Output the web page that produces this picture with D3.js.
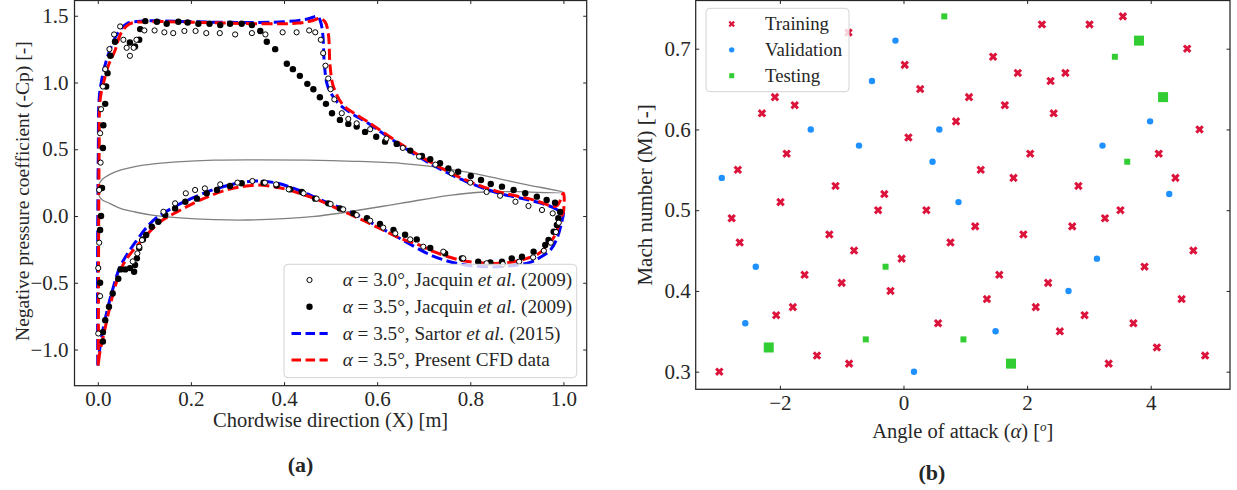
<!DOCTYPE html>
<html>
<head>
<meta charset="utf-8">
<script src="https://cdn.jsdelivr.net/npm/d3@7"></script>
<style>
  body { margin: 0; background: #fff; }
  svg { display: block; }
  text { font-family: "Liberation Serif", "DejaVu Serif", serif; fill: #262626; }
</style>
</head>
<body>
<div id="chart"></div>
<script>
// ---------- data: panel (a), chordwise x vs -Cp ----------
const airfoilUpper = [[0,0.195],[0.003,0.24],[0.01,0.275],[0.025,0.31],[0.05,0.345],[0.08,0.37],[0.12,0.39],
  [0.17,0.405],[0.25,0.418],[0.35,0.42],[0.45,0.418],[0.55,0.41],[0.65,0.395],[0.72,0.37],[0.79,0.33],
  [0.86,0.28],[0.92,0.235],[1.0,0.177]];
const airfoilLower = [[0,0.195],[0.003,0.15],[0.01,0.12],[0.025,0.095],[0.05,0.055],[0.08,0.03],[0.12,0.005],
  [0.17,-0.012],[0.25,-0.027],[0.32,-0.03],[0.4,-0.02],[0.46,-0.005],[0.54,0.032],[0.65,0.095],
  [0.755,0.155],[0.83,0.18],[0.9,0.182],[1.0,0.177]];

const cfdUpper = [[0.001,-1.12],[0.0015,-0.6],[0.002,0.0],[0.003,0.5],[0.005,0.87],[0.012,0.99],[0.022,1.12],
  [0.037,1.24],[0.05,1.37],[0.069,1.44],[0.11,1.455],[0.22,1.45],[0.36,1.44],[0.43,1.445],[0.462,1.465],
  [0.477,1.48],[0.488,1.455],[0.495,1.37],[0.499,1.12],[0.506,0.97],[0.527,0.83],[0.55,0.77],[0.578,0.71],
  [0.648,0.545],[0.719,0.395],[0.79,0.27],[0.862,0.18],[0.926,0.13],[0.948,0.107],[0.985,0.075],[1.0,0.17]];
const cfdLower = [[0.001,-1.12],[0.004,-1.03],[0.012,-0.9],[0.026,-0.68],[0.037,-0.53],[0.055,-0.36],[0.09,-0.2],
  [0.134,-0.043],[0.17,0.03],[0.205,0.095],[0.24,0.15],[0.276,0.195],[0.31,0.22],[0.345,0.232],[0.39,0.212],
  [0.433,0.17],[0.47,0.125],[0.505,0.07],[0.54,0.015],[0.576,-0.043],[0.61,-0.1],[0.65,-0.167],[0.69,-0.217],
  [0.72,-0.265],[0.778,-0.33],[0.82,-0.35],[0.864,-0.354],[0.893,-0.342],[0.922,-0.317],[0.943,-0.29],
  [0.964,-0.23],[0.978,-0.167],[0.989,-0.08],[0.9965,0.0],[1.0,0.03]];

const sartorUpper = [[0.0,-1.12],[-0.0005,-0.6],[0.0,0.0],[0.0012,0.5],[0.003,0.88],[0.009,1.03],[0.018,1.16],
  [0.03,1.28],[0.043,1.37],[0.062,1.44],[0.1,1.46],[0.2,1.455],[0.3,1.45],[0.4,1.455],[0.45,1.475],
  [0.472,1.495],[0.478,1.46],[0.483,1.37],[0.487,1.12],[0.494,0.97],[0.515,0.85],[0.54,0.78],[0.578,0.7],
  [0.648,0.535],[0.72,0.38],[0.79,0.26],[0.862,0.17],[0.926,0.12],[0.97,0.075],[0.995,0.035]];
const sartorLower = [[0.0,-1.12],[0.004,-1.0],[0.01,-0.87],[0.02,-0.71],[0.032,-0.55],[0.048,-0.38],[0.08,-0.2],
  [0.12,-0.03],[0.16,0.06],[0.2,0.13],[0.25,0.2],[0.3,0.245],[0.34,0.262],[0.38,0.25],[0.43,0.195],[0.5,0.09],
  [0.55,0.02],[0.6,-0.075],[0.65,-0.17],[0.72,-0.3],[0.778,-0.36],[0.83,-0.38],[0.88,-0.375],[0.93,-0.345],
  [0.95,-0.31],[0.972,-0.255],[0.987,-0.16],[0.996,-0.05],[1.0,0.035]];

// Jacquin et al. (2009), alpha = 3.0 (open) and 3.5 (filled)
const jacquin30 = [[0.001,-0.88],[0.005,-0.6],[0.001,-0.39],[0.003,-0.2],[0.003,0.195],[0.006,0.40],[0.005,0.62],
  [0.007,0.8],[0.011,0.97],[0.016,1.1],[0.025,1.25],[0.035,1.36],[0.048,1.42],[0.055,1.32],[0.062,1.26],
  [0.069,1.20],[0.077,1.26],[0.083,1.32],[0.1,1.39],[0.122,1.39],[0.143,1.376],[0.162,1.37],[0.186,1.386],
  [0.21,1.386],[0.233,1.37],[0.262,1.37],[0.295,1.36],[0.331,1.37],[0.36,1.36],[0.397,1.376],[0.427,1.376],
  [0.454,1.39],[0.467,1.376],[0.479,1.32],[0.484,1.22],[0.489,1.126],[0.495,1.03],[0.5,0.95],[0.508,0.874],
  [0.524,0.77],[0.538,0.727],[0.556,0.694],[0.585,0.65],[0.62,0.58],[0.655,0.51],[0.69,0.445],[0.725,0.385],
  [0.76,0.32],[0.8,0.25],[0.835,0.18],[0.864,0.152],[0.897,0.107],[0.925,0.075],[0.954,0.045],[0.977,0.02],
  [0.075,-0.34],[0.085,-0.28],[0.089,-0.23],[0.095,-0.18],[0.141,0.032],[0.166,0.095],[0.189,0.17],
  [0.209,0.195],[0.23,0.207],[0.263,0.237],[0.3,0.25],[0.332,0.262],[0.359,0.25],[0.383,0.237],[0.41,0.2],
  [0.442,0.17],[0.47,0.13],[0.5,0.09],[0.527,0.05],[0.556,0.007],[0.585,-0.035],[0.613,-0.087],[0.639,-0.13],
  [0.671,-0.175],[0.699,-0.23],[0.742,-0.267],[0.785,-0.317],[0.835,-0.354],[0.87,-0.36],[0.905,-0.342],
  [0.935,-0.31],[0.958,-0.26],[0.973,-0.2],[0.984,-0.12],[0.99,-0.05]];
const jacquin35 = [[0.007,0.0],[0.005,-0.105],[0.005,-0.5],[0.011,-0.87],[0.011,-0.94],[0.009,0.21],[0.011,0.51],
  [0.012,0.68],[0.016,0.84],[0.018,0.97],[0.021,1.07],[0.027,1.2],[0.037,1.305],[0.069,1.30],[0.08,1.27],
  [0.089,1.32],[0.091,1.40],[0.102,1.46],[0.127,1.455],[0.148,1.44],[0.173,1.455],[0.193,1.45],[0.216,1.44],
  [0.24,1.44],[0.263,1.43],[0.284,1.44],[0.309,1.44],[0.331,1.43],[0.349,1.386],[0.363,1.305],[0.381,1.25],
  [0.406,1.14],[0.419,1.10],[0.434,1.05],[0.45,0.99],[0.463,0.95],[0.477,0.89],[0.49,0.84],[0.503,0.77],
  [0.52,0.72],[0.538,0.69],[0.556,0.67],[0.574,0.63],[0.598,0.594],[0.617,0.557],[0.642,0.54],[0.671,0.49],
  [0.696,0.45],[0.714,0.425],[0.735,0.395],[0.753,0.357],[0.774,0.332],[0.801,0.30],[0.823,0.27],[0.844,0.24],
  [0.868,0.22],[0.893,0.195],[0.918,0.17],[0.943,0.145],[0.964,0.12],[0.982,0.10],
  [0.016,-0.78],[0.024,-0.68],[0.032,-0.58],[0.044,-0.47],[0.049,-0.40],[0.059,-0.40],[0.069,-0.39],
  [0.078,-0.417],[0.08,-0.367],[0.084,-0.317],[0.089,-0.24],[0.097,-0.175],[0.104,-0.142],[0.116,-0.08],
  [0.13,-0.043],[0.145,0.007],[0.166,0.057],[0.188,0.107],[0.213,0.13],[0.234,0.17],[0.256,0.195],
  [0.284,0.225],[0.309,0.245],[0.356,0.25],[0.384,0.23],[0.413,0.2],[0.438,0.18],[0.467,0.13],[0.495,0.095],
  [0.52,0.057],[0.549,0.02],[0.578,-0.017],[0.606,-0.06],[0.635,-0.105],[0.66,-0.14],[0.685,-0.175],
  [0.714,-0.24],[0.746,-0.28],[0.782,-0.317],[0.817,-0.342],[0.843,-0.347],[0.868,-0.342],[0.889,-0.317],
  [0.911,-0.305],[0.936,-0.267],[0.961,-0.217],[0.968,-0.18],[0.979,-0.118],[0.986,-0.067],[0.989,-0.017],
  [0.993,0.03]];

// ---------- data: panel (b), angle of attack vs Mach ----------
const training = [[-0.89,0.72],[0.02,0.68],[0.27,0.65],[0.08,0.59],[0.37,0.50],[-2.08,0.64],[-2.29,0.62],
  [-1.76,0.63],[-1.89,0.57],[-2.68,0.55],[-1.10,0.53],[-0.31,0.52],[-1.99,0.51],[-0.41,0.50],[-2.78,0.49],
  [-1.20,0.47],[-2.65,0.46],[-0.80,0.45],[-1.60,0.42],[-1.00,0.41],[-0.03,0.44],[-0.21,0.40],[-1.79,0.38],
  [-2.06,0.37],[-1.40,0.32],[-0.88,0.31],[-2.98,0.30],[0.56,0.36],[2.24,0.73],[3.01,0.73],[3.55,0.74],
  [4.59,0.70],[1.45,0.69],[1.85,0.67],[2.38,0.66],[2.62,0.67],[1.06,0.64],[1.64,0.63],[2.43,0.62],[0.85,0.61],
  [4.79,0.60],[2.05,0.57],[4.13,0.57],[1.25,0.55],[1.78,0.54],[4.40,0.54],[2.83,0.53],[3.51,0.50],[3.26,0.49],
  [1.16,0.48],[2.73,0.48],[1.94,0.47],[0.76,0.46],[4.69,0.45],[3.90,0.43],[1.55,0.42],[2.34,0.41],[1.35,0.39],
  [4.50,0.39],[2.14,0.38],[2.93,0.37],[3.72,0.36],[2.53,0.35],[4.10,0.33],[3.32,0.31],[4.88,0.32]];
const validation = [[-0.13,0.71],[0.58,0.60],[0.47,0.56],[-0.51,0.66],[-1.50,0.60],[-0.72,0.58],[-2.94,0.54],
  [-2.39,0.43],[-2.56,0.36],[0.17,0.30],[3.99,0.61],[3.22,0.58],[4.30,0.52],[0.89,0.51],[3.13,0.44],
  [2.67,0.40],[1.49,0.35]];
const testing = [[-0.29,0.43],[-0.61,0.34],[0.66,0.74],[3.42,0.69],[3.62,0.56],[0.97,0.34]];
const testingLarge = [[-2.18,0.33],[3.81,0.71],[4.20,0.64],[1.74,0.31]];

// ticks
const xTicksA = [0, 0.2, 0.4, 0.6, 0.8, 1.0];
const yTicksA = [-1.0, -0.5, 0.0, 0.5, 1.0, 1.5];
const xTicksB = [-2, 0, 2, 4];
const yTicksB = [0.3, 0.4, 0.5, 0.6, 0.7];

const legendA = [
  [["α", true], [" = 3.0°, Jacquin "], ["et al.", true], [" (2009)"]],
  [["α", true], [" = 3.5°, Jacquin "], ["et al.", true], [" (2009)"]],
  [["α", true], [" = 3.5°, Sartor "], ["et al.", true], [" (2015)"]],
  [["α", true], [" = 3.5°, Present CFD data"]]
];
const legendB = ["Training", "Validation", "Testing"];

// ---------- drawing ----------
const W = 1237, H = 490;
const ink = "#262626";
const RED = "#ff0000", BLUE = "#0000ff";
const CRIMSON = "#dc143c", DODGER = "#1e90ff", LIME = "#32cd32";
const tickFont = 21, labelFont = 20.5;

const svg = d3.select("#chart").append("svg").attr("width", W).attr("height", H);

const boxA = { left: 74.5, right: 586.7, top: 0.5, bottom: 385.7 };
const boxB = { left: 695.7, right: 1230, top: 0.5, bottom: 389.3 };

const xA = d3.scaleLinear().domain([-0.05, 1.05]).range([boxA.left, boxA.right]);
const yA = d3.scaleLinear().domain([-1.271, 1.618]).range([boxA.bottom, 0]);
const xB = d3.scaleLinear().domain([-3.362, 5.283]).range([boxB.left, boxB.right]);
const yB = d3.scaleLinear().domain([0.2782, 0.7603]).range([boxB.bottom, 0]);

function drawAxes(x, y, box, xt, yt, xf, yf, padLeft, padBottom) {
  const g = svg.append("g");
  const style = sel => {
    sel.attr("font-family", null).attr("font-size", null);
    sel.select(".domain").remove();
    sel.selectAll("line").attr("stroke", ink).attr("stroke-width", 1);
    sel.selectAll("text").attr("font-size", tickFont).attr("fill", ink);
  };
  g.append("g").attr("transform", `translate(0,${box.bottom})`)
    .call(d3.axisBottom(x).tickValues(xt).tickFormat(xf).tickSize(-3.5).tickSizeOuter(0).tickPadding(padBottom))
    .call(style);
  g.append("g").attr("transform", `translate(0,${box.top})`)
    .call(d3.axisTop(x).tickValues(xt).tickFormat("").tickSize(-3.5).tickSizeOuter(0))
    .call(style);
  g.append("g").attr("transform", `translate(${box.left},0)`)
    .call(d3.axisLeft(y).tickValues(yt).tickFormat(yf).tickSize(-3.5).tickSizeOuter(0).tickPadding(padLeft))
    .call(style);
  g.append("g").attr("transform", `translate(${box.right},0)`)
    .call(d3.axisRight(y).tickValues(yt).tickFormat("").tickSize(-3.5).tickSizeOuter(0))
    .call(style);
  svg.append("rect")
    .attr("x", box.left).attr("y", box.top)
    .attr("width", box.right - box.left).attr("height", box.bottom - box.top)
    .attr("fill", "none").attr("stroke", ink).attr("stroke-width", 1.25);
}

function richText(g, x, y, parts, size) {
  const t = g.append("text").attr("x", x).attr("y", y).attr("font-size", size);
  parts.forEach(p => t.append("tspan").attr("font-style", p[1] ? "italic" : null).text(p[0]));
  return t;
}

// ----- panel (a) -----
const gA = svg.append("g");
const curve = d3.curveCatmullRom.alpha(0.5);

const foilLine = d3.line().x(d => xA(d[0])).y(d => yA(d[1])).curve(curve);
gA.append("path")
  .attr("d", foilLine(airfoilUpper.concat(airfoilLower.slice(0, -1).reverse())))
  .attr("fill", "none").attr("stroke", "#808080").attr("stroke-width", 1.3);

const cpLine = d3.line().x(d => xA(d[0])).y(d => yA(d[1])).curve(curve);
gA.append("path")
  .attr("d", cpLine(sartorUpper.concat(sartorLower.slice().reverse())))
  .attr("fill", "none").attr("stroke", BLUE).attr("stroke-width", 3)
  .attr("stroke-dasharray", "11,4.5");
gA.append("path")
  .attr("d", cpLine(cfdUpper.concat(cfdLower.slice().reverse())))
  .attr("fill", "none").attr("stroke", RED).attr("stroke-width", 3)
  .attr("stroke-dasharray", "11,4.5");

gA.selectAll(".j35").data(jacquin35).enter().append("circle")
  .attr("class", "j35")
  .attr("cx", d => xA(d[0])).attr("cy", d => yA(d[1])).attr("r", 3.2)
  .attr("fill", "#000");
gA.selectAll(".j30").data(jacquin30).enter().append("circle")
  .attr("class", "j30")
  .attr("cx", d => xA(d[0])).attr("cy", d => yA(d[1])).attr("r", 2.6)
  .attr("fill", "#fff").attr("stroke", "#000").attr("stroke-width", 1);

drawAxes(xA, yA, boxA, xTicksA, yTicksA, d3.format(".1f"), d3.format(".1f"), 6, 5);

// legend (a)
const legA = svg.append("g");
legA.append("rect").attr("x", 284).attr("y", 264.3).attr("width", 292.7).attr("height", 113.4)
  .attr("rx", 4).attr("fill", "#fff").attr("fill-opacity", 0.8)
  .attr("stroke", "#d3d3d3").attr("stroke-width", 1);
legendA.forEach((parts, i) => {
  const cy = 280 + i * 26.7;
  if (i === 0) {
    legA.append("circle").attr("cx", 309.5).attr("cy", cy).attr("r", 2.6)
      .attr("fill", "#fff").attr("stroke", "#000").attr("stroke-width", 1);
  } else if (i === 1) {
    legA.append("circle").attr("cx", 309.5).attr("cy", cy).attr("r", 3.2).attr("fill", "#000");
  } else {
    legA.append("line").attr("x1", 291.5).attr("x2", 327.7).attr("y1", cy).attr("y2", cy)
      .attr("stroke", i === 2 ? BLUE : RED).attr("stroke-width", 3).attr("stroke-dasharray", "9.5,4.5");
  }
  richText(legA, 342.7, cy + 6.3, parts, 19.2);
});

// axis labels (a)
svg.append("text").attr("x", (boxA.left + boxA.right) / 2).attr("y", 427)
  .attr("text-anchor", "middle").attr("font-size", labelFont)
  .text("Chordwise direction (X) [m]");
svg.append("text").attr("transform", `translate(29,${(boxA.top + boxA.bottom) / 2 - 2}) rotate(-90)`)
  .attr("text-anchor", "middle").attr("font-size", 19.5)
  .text("Negative pressure coefficient (-Cp) [-]");
svg.append("text").attr("x", 300.5).attr("y", 472).attr("text-anchor", "middle")
  .attr("font-size", 22).attr("font-weight", "bold").attr("fill", "#000").text("(a)");

// ----- panel (b) -----
const gB = svg.append("g");
const xMark = d3.symbol().type(d3.symbolCross).size(46);

gB.selectAll(".train").data(training).enter().append("path")
  .attr("class", "train")
  .attr("d", xMark)
  .attr("transform", d => `translate(${xB(d[0])},${yB(d[1])}) rotate(45)`)
  .attr("fill", CRIMSON);
gB.selectAll(".val").data(validation).enter().append("circle")
  .attr("class", "val")
  .attr("cx", d => xB(d[0])).attr("cy", d => yB(d[1])).attr("r", 3.2)
  .attr("fill", DODGER);
gB.selectAll(".test").data(testing).enter().append("rect")
  .attr("class", "test")
  .attr("x", d => xB(d[0]) - 3).attr("y", d => yB(d[1]) - 3)
  .attr("width", 6).attr("height", 6).attr("fill", LIME);
gB.selectAll(".testL").data(testingLarge).enter().append("rect")
  .attr("class", "testL")
  .attr("x", d => xB(d[0]) - 5).attr("y", d => yB(d[1]) - 5)
  .attr("width", 10).attr("height", 10).attr("fill", LIME);

drawAxes(xB, yB, boxB, xTicksB, yTicksB, d3.format("d"), d3.format(".1f"), 5, 6);

// legend (b)
const legB = svg.append("g");
legB.append("rect").attr("x", 706).attr("y", 8.3).attr("width", 143).attr("height", 83.4)
  .attr("rx", 4).attr("fill", "#fff").attr("fill-opacity", 0.8)
  .attr("stroke", "#d3d3d3").attr("stroke-width", 1);
legendB.forEach((label, i) => {
  const cy = 24 + i * 25.85;
  if (i === 0) {
    legB.append("path").attr("d", d3.symbol().type(d3.symbolCross).size(26))
      .attr("transform", `translate(731.7,${cy}) rotate(45)`).attr("fill", CRIMSON);
  } else if (i === 1) {
    legB.append("circle").attr("cx", 731.7).attr("cy", cy).attr("r", 2.7).attr("fill", DODGER);
  } else {
    legB.append("rect").attr("x", 729.2).attr("y", cy - 2.5).attr("width", 5).attr("height", 5).attr("fill", LIME);
  }
  legB.append("text").attr("x", 765).attr("y", cy + 6.3).attr("font-size", 18.8).text(label);
});

// axis labels (b)
const xlabB = svg.append("text").attr("x", (boxB.left + boxB.right) / 2).attr("y", 438)
  .attr("text-anchor", "middle").attr("font-size", labelFont);
xlabB.append("tspan").text("Angle of attack (");
xlabB.append("tspan").attr("font-style", "italic").text("α");
xlabB.append("tspan").text(") [");
xlabB.append("tspan").attr("font-style", "italic").attr("font-size", 13).attr("dy", -7).text("o");
xlabB.append("tspan").attr("dy", 7).text("]");
svg.append("text").attr("transform", `translate(652,${(boxB.top + boxB.bottom) / 2}) rotate(-90)`)
  .attr("text-anchor", "middle").attr("font-size", 21)
  .text("Mach number (M) [-]");
svg.append("text").attr("x", 932).attr("y", 480).attr("text-anchor", "middle")
  .attr("font-size", 22).attr("font-weight", "bold").attr("fill", "#000").text("(b)");
</script>
</body>
</html>
